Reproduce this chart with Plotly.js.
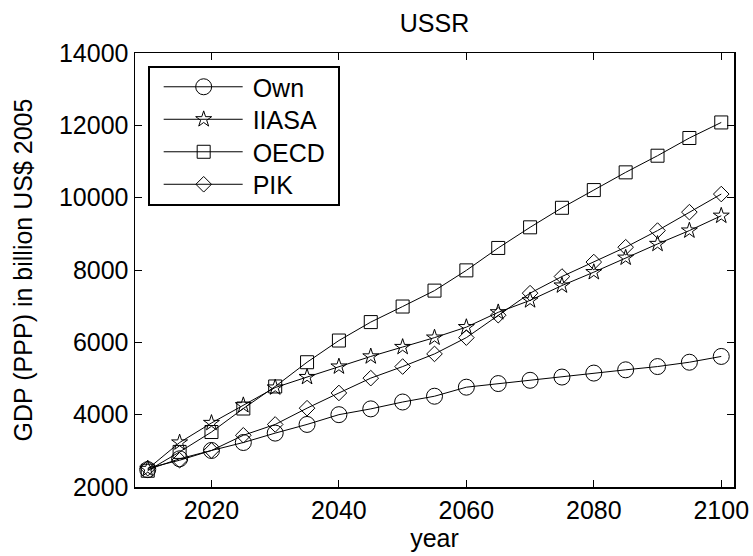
<!DOCTYPE html>
<html>
<head>
<meta charset="utf-8">
<script src="https://cdn.plot.ly/plotly-3.0.1.min.js"></script>
<style>html,body{margin:0;padding:0;background:#fff;}#chart{width:753px;height:556px;}</style>
</head>
<body>
<div id="chart"></div>
<script>
var years = [2010,2015,2020,2025,2030,2035,2040,2045,2050,2055,2060,2065,2070,2075,2080,2085,2090,2095,2100];
var ownValues   = [2480,2780,3010,3230,3490,3730,4000,4160,4350,4510,4760,4860,4950,5040,5150,5240,5330,5450,5610];
var iiasaValues = [2500,3230,3770,4260,4750,5040,5330,5610,5870,6130,6420,6830,7160,7570,7940,8340,8720,9090,9500];
var oecdValues  = [2450,2970,3520,4170,4780,5450,6050,6560,6990,7430,7990,8610,9180,9720,10210,10700,11160,11650,12080];
var pikValues   = [2520,2740,3010,3430,3730,4180,4600,5010,5330,5680,6130,6750,7360,7820,8220,8630,9090,9600,10100];
var seriesNames = ["Own","IIASA","OECD","PIK"];
var tickYears = [2020,2040,2060,2080,2100];
var tickValues = [2000,4000,6000,8000,10000,12000,14000];

var symbols = ["circle-open","star-open","square-open","diamond-open"];
var sizes = [16,12,13,12];
var allValues = [ownValues, iiasaValues, oecdValues, pikValues];

var traces = allValues.map(function(v, i){
  return {
    x: years, y: v, name: seriesNames[i], type: "scatter", mode: "lines+markers",
    line: {color: "#000", width: 1},
    marker: {symbol: symbols[i], size: sizes[i], color: "#000", line: {color: "#000", width: 1}}
  };
});

var font = {family: "Liberation Sans, Arial, Helvetica, sans-serif", size: 25, color: "#000"};

var layout = {
  width: 753, height: 556,
  margin: {l: 135, r: 19, t: 53, b: 69, pad: 0},
  paper_bgcolor: "#fff", plot_bgcolor: "#fff",
  font: font,
  title: {text: "USSR", font: font, x: 0.5, xref: "paper", xanchor: "center", y: 0.958, yref: "container", yanchor: "middle"},
  showlegend: true,
  legend: {
    x: 0.022, y: 0.97, xanchor: "left", yanchor: "top",
    bgcolor: "#fff", bordercolor: "#000", borderwidth: 1.5,
    font: font, itemwidth: 93, tracegroupgap: 0
  },
  xaxis: {
    range: [2008, 2102], tickvals: tickYears, ticktext: tickYears.map(String),
    ticks: "inside", ticklen: 7, tickwidth: 1, tickcolor: "#000",
    showline: true, linecolor: "#000", linewidth: 1.5, mirror: "ticks",
    showgrid: false, zeroline: false,
    tickfont: font,
    title: {text: "year", font: font, standoff: 2}
  },
  yaxis: {
    range: [2000, 14000], tickvals: tickValues, ticktext: tickValues.map(String),
    ticks: "inside", ticklen: 7, tickwidth: 1, tickcolor: "#000",
    showline: true, linecolor: "#000", linewidth: 1.5, mirror: "ticks",
    showgrid: false, zeroline: false,
    tickfont: font,
    title: {text: "GDP (PPP) in billion US$ 2005", font: font, standoff: 19}
  }
};

Plotly.newPlot("chart", traces, layout, {displayModeBar: false, staticPlot: true}).then(function(gd){
  // Legend styling to mimic MATLAB: long sample lines, centred markers, tighter rows
  var leg = gd.querySelector(".legend");
  if (!leg) return;
  leg.querySelectorAll(".legendlines path").forEach(function(p){ p.setAttribute("d", "M14,0h79"); });
  leg.querySelectorAll(".legendpoints path").forEach(function(p){ p.setAttribute("transform", "translate(54,0)"); });
  var items = leg.querySelectorAll(".traces");
  var rowGap = 32.5, y0 = null;
  items.forEach(function(g, i){
    var m = /translate\(\s*([-\d.]+)[ ,]+([-\d.]+)\s*\)/.exec(g.getAttribute("transform") || "");
    if (!m) return;
    var x = parseFloat(m[1]), y = parseFloat(m[2]);
    if (i === 0) y0 = y - 3.5;
    g.setAttribute("transform", "translate(" + x + "," + (y0 + i * rowGap) + ")");
  });
  var bg = leg.querySelector("rect.bg");
  if (bg) {
    bg.setAttribute("height", 138);
    bg.setAttribute("width", 190);
  }
});
</script>
</body>
</html>
